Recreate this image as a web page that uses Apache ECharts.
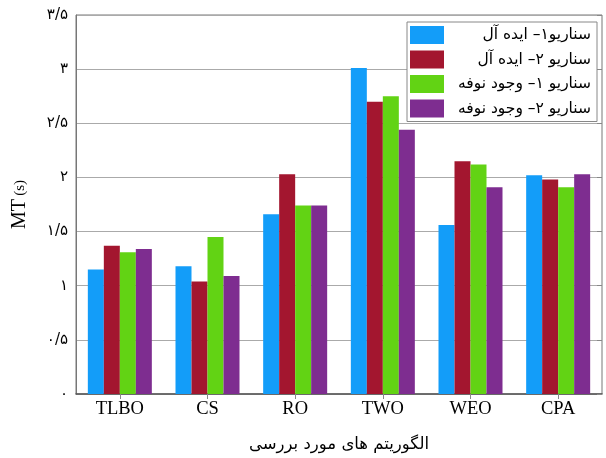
<!DOCTYPE html>
<html>
<head>
<meta charset="utf-8">
<script src="https://cdn.jsdelivr.net/npm/echarts@6/dist/echarts.min.js"></script>
<style>
  html, body { margin: 0; padding: 0; background: #fff; }
  #chart { width: 606px; height: 458px; }
</style>
</head>
<body>
<div id="chart"></div>
<script>
// الگوریتم ها
var categories = ['TLBO', 'CS', 'RO', 'TWO', 'WEO', 'CPA'];

var seriesNames = [
  'سناریو۱– ایده آل',
  'سناریو ۲– ایده آل',
  'سناریو ۱– وجود نوفه',
  'سناریو ۲– وجود نوفه'
];

var s1Ideal = [1.15, 1.18, 1.66, 3.01, 1.56, 2.02];
var s2Ideal = [1.37, 1.04, 2.03, 2.70, 2.15, 1.98];
var s1Noise = [1.31, 1.45, 1.74, 2.75, 2.12, 1.91];
var s2Noise = [1.34, 1.09, 1.74, 2.44, 1.91, 2.03];

var yTickLabels = ['۰', '۰/۵', '۱', '۱/۵', '۲', '۲/۵', '۳', '۳/۵'];

var colors = ['#139DF9', '#A3162F', '#62D314', '#7E2D90'];
var faFont = 'DejaVu Sans';
var serif = 'Liberation Serif';

var chart = echarts.init(document.getElementById('chart'));

var dataList = [s1Ideal, s2Ideal, s1Noise, s2Noise];
var series = dataList.map(function (d, i) {
  return {
    name: seriesNames[i],
    type: 'bar',
    data: d,
    barWidth: 16,
    barGap: '0%',
    barCategoryGap: '26.7%',
    itemStyle: { color: colors[i] }
  };
});

var option = {
  animation: false,
  color: colors,
  grid: {
    left: 76, right: 4, top: 15, bottom: 61,
    show: true,
    borderColor: '#777',
    borderWidth: 1,
    backgroundColor: 'transparent'
  },
  legend: {
    orient: 'vertical',
    left: 407,
    top: 22,
    itemWidth: 34,
    itemHeight: 18,
    itemGap: 6.5,
    padding: [4, 6, 4, 3],
    borderColor: '#888',
    borderWidth: 1,
    backgroundColor: '#fff',
    icon: 'rect',
    formatter: function (name) { return '{n|' + name + '}'; },
    textStyle: {
      rich: {
        n: { width: 142, align: 'right', fontSize: 15.5, fontFamily: faFont, color: '#000' }
      }
    }
  },
  xAxis: [{
    type: 'category',
    data: categories,
    name: 'الگوریتم های مورد بررسی',
    nameLocation: 'middle',
    nameGap: 42,
    nameTextStyle: { fontSize: 16.5, fontFamily: faFont, color: '#000' },
    axisLine: { lineStyle: { color: '#555', width: 1.5 } },
    axisTick: { show: false },
    axisLabel: { fontSize: 18.5, fontFamily: serif, color: '#000', margin: 6 }
  }, {
    type: 'category',
    data: categories,
    position: 'top',
    axisLine: { show: false },
    axisTick: { show: true, inside: true, alignWithLabel: true, length: 5, lineStyle: { color: '#888' } },
    axisLabel: { show: false }
  }],
  yAxis: [{
    type: 'value',
    min: 0,
    max: 3.5,
    interval: 0.5,
    name: '{a|MT} {b|(s)}',
    nameLocation: 'middle',
    nameGap: 46,
    nameTextStyle: {
      color: '#000',
      rich: {
        a: { fontSize: 20, fontFamily: serif, color: '#000' },
        b: { fontSize: 15, fontFamily: serif, color: '#000' }
      }
    },
    axisLine: { show: true, lineStyle: { color: '#777' } },
    axisTick: { show: false },
    splitLine: { show: true, lineStyle: { color: '#aaa', width: 1 } },
    axisLabel: {
      fontSize: 15,
      fontFamily: faFont,
      color: '#000',
      margin: 8,
      formatter: function (v) { return yTickLabels[Math.round(v / 0.5)]; }
    }
  }, {
    type: 'value',
    min: 0,
    max: 3.5,
    interval: 0.5,
    position: 'right',
    axisLine: { show: false },
    axisTick: { show: true, inside: true, length: 5, lineStyle: { color: '#888' } },
    axisLabel: { show: false },
    splitLine: { show: false }
  }],
  series: series
};

chart.setOption(option);
</script>
</body>
</html>
